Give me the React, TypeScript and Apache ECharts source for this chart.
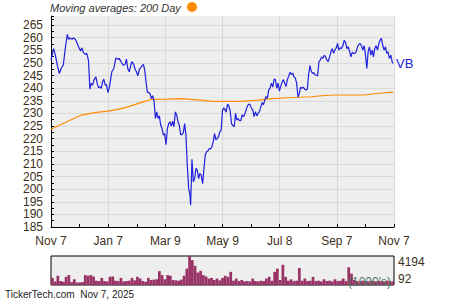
import React, { useEffect, useRef } from "react";
import * as echarts from "echarts";

const xTickLabels = ["Nov 7", "Jan 7", "Mar 9", "May 9", "Jul 8", "Sep 7", "Nov 7"];

// day offset from Nov 7, 2024
const priceDays = [
  0, 2.8, 4.6, 6.7, 8.9, 11, 13.1, 15.2, 17.4, 18.8, 20.2, 22.3, 23.8, 25.9, 27.3, 29.4, 31.6, 33, 34.4, 36.5,
  38, 39.4, 40.1, 41.5, 42.9, 44.3, 45.8, 47.9, 49.3, 50.7, 52.1, 53.6, 55, 56.4, 57.8, 59.2, 60.7, 62.1, 63.5, 64.9,
  67, 69.2, 71.3, 72.7, 74.8, 77, 79.1, 80.5, 81.9, 83.4, 84.8, 86.2, 88.3, 89.7, 91.2, 92.6, 94.4, 96.5, 98.6, 100,
  101.4, 102.9, 104.3, 105.7, 107.1, 108.5, 110, 111.4, 112.8, 114.2, 115.6, 117.1, 118.5, 119.9, 121.3, 122.7, 124.2, 125.6, 127, 128.4,
  129.8, 131.2, 132.7, 134.1, 135.5, 136.9, 138.3, 139.8, 141.2, 142.6, 144, 145.4, 146.9, 148.3, 149, 150.4, 151.8, 153.2, 154.7, 156.1,
  157.5, 158.9, 160.3, 161.8, 163.2, 164.6, 166, 167.4, 168.9, 170.3, 171.7, 173.1, 174.5, 176, 177.4, 178.8, 180.2, 181.6, 183, 184.5,
  185.9, 186.9, 188.4, 189.8, 191.2, 192.6, 194, 195.5, 196.9, 198.3, 199.7, 201.1, 202.5, 204, 205.4, 206.8, 208.2, 209.6, 211.1, 212.5,
  213.9, 215.3, 216.7, 218.2, 219.6, 221, 222.4, 223.8, 225.3, 226.7, 228.1, 229.5, 230.9, 232.3, 233.8, 235.2, 236.6, 238, 239.4, 240.9,
  242.3, 243.7, 245.1, 246.5, 248, 249.4, 250.8, 252.2, 253.6, 255.1, 256.5, 257.9, 259.3, 260.7, 262.1, 263.6, 265, 266.4, 267.8, 269.2,
  270.7, 272.1, 273.5, 274.9, 276.3, 277.7, 279.2, 280.2, 281.7, 283.1, 284.5, 285.9, 287.3, 288.7, 290.2, 291.6, 293, 294.4, 295.8, 297.3,
  298.7, 300.1, 301.5, 302.9, 304.4, 305.8, 307.2, 308.6, 310, 311.4, 312.9, 314.3, 315.7, 317.1, 318.5, 320, 321.4, 322.8, 324.2, 325.6,
  327.1, 328.5, 329.9, 331.3, 332.7, 334.2, 335.6, 337, 338.4, 339.8, 341.3, 342.7, 344.1, 345.5, 346.9, 348.4, 349.8, 351.2, 352.6, 354,
  355.5, 356.9, 358.3, 359.7, 361.1, 362.6, 364, 365,
];

const prices = [
  251.1, 255.7, 253.1, 249.1, 245.8, 248, 249.1, 255.7, 261.3, 259.4, 259.9, 259.4, 259.9, 259.4, 258.4, 256.4, 254.7, 256, 254.2, 253.4,
  253.8, 252, 250.5, 239.6, 241.9, 241.2, 243.2, 244.5, 241.9, 240.1, 240.6, 239.9, 242.5, 243.6, 241.2, 241.5, 238.3, 239.9, 243.2, 246.5,
  247.8, 252, 251.5, 251.8, 250.5, 249.1, 249.4, 251.5, 247.8, 246.5, 248.5, 250.5, 249.4, 247.5, 246.5, 244.9, 247.5, 248.5, 249.4, 247.2,
  242.5, 238.3, 238.3, 237.8, 235.9, 237, 234.8, 228, 230.6, 228, 229, 225.3, 224, 221.4, 222, 217.6, 224, 226, 226.6, 225,
  226.9, 224.7, 230.6, 229.4, 226.7, 225.3, 221.6, 221.6, 222.4, 226, 221.4, 209.5, 200.3, 197.6, 193.6, 211.8, 202.9, 204.2, 208.2, 207.5,
  204.2, 206.2, 205.5, 202.2, 208.2, 213.5, 214.8, 215.1, 216.1, 215.9, 216.8, 218.8, 222, 219.5, 220.1, 220.8, 222.8, 223.4, 231.3, 232.2,
  231.3, 230.5, 233.7, 232.9, 231, 226, 225.3, 224.7, 230, 227.4, 228, 227.1, 227.1, 229.4, 228.7, 229.8, 231.4, 233, 233.7, 233.4,
  232, 231.4, 228.7, 230.7, 229, 230, 230.7, 232.5, 234.3, 233.4, 235.3, 236.7, 236, 239.3, 240, 242, 240.4, 243.6, 243.4, 240,
  242, 238.8, 240.7, 242.3, 243.4, 242, 240.7, 243.4, 244.7, 246.3, 245.4, 246, 244.4, 244, 242, 236.4, 238, 240.4, 240, 240.4,
  239.6, 239.3, 239.6, 245.4, 249, 246.7, 245.8, 246.2, 245.4, 245.1, 244.9, 250.5, 251.1, 252.4, 251.8, 253.1, 252.4, 251.1, 250.5, 252.4,
  254.4, 255.7, 253.8, 255.1, 256, 257.7, 255.1, 256, 255.7, 256.8, 259, 258.1, 255.7, 256.4, 254.7, 252.4, 254.2, 253.8, 253.8, 254.4,
  256.4, 257.3, 257.7, 256.8, 255.1, 256.8, 253.1, 247.8, 254.4, 256.4, 253.1, 255.1, 252.4, 255.7, 256.8, 255.1, 257.7, 259, 259.7, 257,
  255.1, 256.4, 253.8, 254.4, 251.8, 253.1, 250.5, 249.8,
];

const maDays = [0, 18.1, 31.9, 46.5, 60.7, 71.3, 81.9, 92.6, 100, 107.2, 124.5, 139.1, 145.8, 160.4, 171, 185.2, 203.3, 221, 235.2, 253, 277.7, 288.4, 303, 334.9, 345.5, 359.7, 365];
const maValues = [223.7, 226.9, 229.3, 230.3, 230.9, 231.6, 232.6, 233.9, 234.8, 235.6, 235.7, 235.9, 235.7, 235.3, 234.8, 234.8, 234.8, 235.3, 235.9, 236.2, 236.6, 237, 237.3, 237.3, 237.8, 238.3, 238.3];

// thousands of shares
const volumes = [
  1100, 600, 1400, 650, 550, 1250, 1500, 500, 900, 450, 450, 500, 1500, 1400, 1500, 1300, 700, 650, 1100, 650,
  600, 1250, 1300, 700, 650, 1100, 600, 650, 700, 1100, 750, 1250, 1000, 650, 550, 1100, 800, 850, 900, 2050,
  1500, 900, 1500, 1400, 800, 750, 700, 850, 1400, 2400, 4194, 3600, 2800, 1850, 2100, 1500, 1300, 1000, 1100, 800,
  1000, 750, 1100, 1400, 1250, 1950, 700, 1000, 650, 800, 600, 650, 600, 1000, 650, 600, 700, 650, 1000, 1250,
  700, 1950, 2400, 800, 2950, 1250, 700, 900, 650, 700, 2500, 700, 1000, 650, 700, 1250, 650, 700, 600, 900,
  650, 700, 600, 900, 650, 700, 1000, 650, 2600, 1700, 800, 650, 600, 700, 650, 600, 700, 650, 600, 700,
  650, 600, 700, 650, 600,
];
const volMin = 92;
const volMax = 4194;

export default function App() {
  const ref = useRef<HTMLDivElement>(null);
  useEffect(() => {
    document.body.style.margin = "0";
    const chart = echarts.init(ref.current!, null, { renderer: "svg" });
    const font = "'Liberation Sans', Arial, sans-serif";
    const labelColor = "#3b3020";
    const gridColor = "#d9d9d9";
    chart.setOption({
      animation: false,
      grid: [
        { left: 51, top: 16, width: 343, height: 211, show: true, backgroundColor: "#eeeeee", borderWidth: 0 },
        { left: 51, top: 256, width: 343, height: 29, show: true, backgroundColor: "#eeeeee", borderColor: "#000", borderWidth: 1 },
      ],
      xAxis: [
        {
          type: "value",
          gridIndex: 0,
          min: 0,
          max: 366,
          interval: 61,
          axisLine: { show: true, onZero: false, lineStyle: { color: "#000", width: 1 } },
          axisTick: { show: true, inside: true, length: 3, lineStyle: { color: "#000" } },
          minorTick: { show: true, splitNumber: 2, length: 3, lineStyle: { color: "#000" } },
          axisLabel: {
            margin: 8,
            color: labelColor,
            fontSize: 12,
            fontFamily: font,
            formatter: (v: number) => xTickLabels[Math.round(v / 61)] ?? "",
          },
          splitLine: { show: true, lineStyle: { color: gridColor } },
        },
        {
          type: "category",
          gridIndex: 1,
          data: volumes.map((_, i) => String(i)),
          show: false,
        },
      ],
      yAxis: [
        {
          type: "value",
          gridIndex: 0,
          min: 185,
          max: 268.6,
          interval: 5,
          axisLine: { show: true, lineStyle: { color: "#000", width: 1 } },
          axisTick: { show: true, inside: true, length: 3, lineStyle: { color: "#000" } },
          minorTick: { show: true, splitNumber: 2, length: 3, lineStyle: { color: "#000" } },
          axisLabel: {
            margin: 8,
            color: labelColor,
            fontSize: 12,
            fontFamily: font,
            formatter: (v: number) => (Math.abs(v % 5) < 1e-6 ? String(v) : ""),
          },
          splitLine: { show: true, showMaxLine: false, lineStyle: { color: gridColor } },
        },
        {
          type: "value",
          gridIndex: 1,
          position: "right",
          min: volMin,
          max: volMax,
          splitNumber: 1,
          axisLine: { show: false },
          axisTick: { show: false },
          splitLine: { show: false },
          axisLabel: {
            margin: 4,
            color: labelColor,
            fontSize: 12,
            fontFamily: font,
            verticalAlignMaxLabel: "top",
            verticalAlignMinLabel: "bottom",
            formatter: (v: number) => (v === volMin || v === volMax ? String(v) : ""),
          },
        },
      ],
      series: [
        {
          type: "line",
          xAxisIndex: 0,
          yAxisIndex: 0,
          data: maDays.map((d, i) => [d, maValues[i]]),
          showSymbol: false,
          lineStyle: { color: "#ff8c00", width: 1.2 },
          z: 2,
        },
        {
          type: "line",
          xAxisIndex: 0,
          yAxisIndex: 0,
          data: priceDays.map((d, i) => [d, prices[i]]),
          showSymbol: false,
          lineStyle: { color: "#2020dd", width: 1.2 },
          endLabel: { show: true, formatter: "VB", color: "#2020dd", fontSize: 13, fontFamily: font, distance: 3 },
          z: 3,
        },
        {
          type: "bar",
          xAxisIndex: 1,
          yAxisIndex: 1,
          data: volumes,
          barCategoryGap: "0%",
          itemStyle: { color: "#993366" },
        },
      ],
      graphic: [
        {
          type: "text",
          left: 50,
          top: 2,
          style: { text: "Moving averages: 200 Day", fill: "#333", font: `italic 11px ${font}` },
        },
        { type: "circle", shape: { cx: 192, cy: 7, r: 5 }, style: { fill: "#ff8c00" } },
        {
          type: "text",
          left: 348,
          top: 276,
          z: 10,
          style: { text: "(1000's)", fill: "#4d7d60", font: `12px ${font}` },
        },
        {
          type: "text",
          left: 5,
          top: 289,
          style: { text: "TickerTech.com  Nov 7, 2025", fill: "#222", font: `10px ${font}` },
        },
      ],
    });
    return () => chart.dispose();
  }, []);
  return <div ref={ref} style={{ width: 450, height: 300 }} />;
}
